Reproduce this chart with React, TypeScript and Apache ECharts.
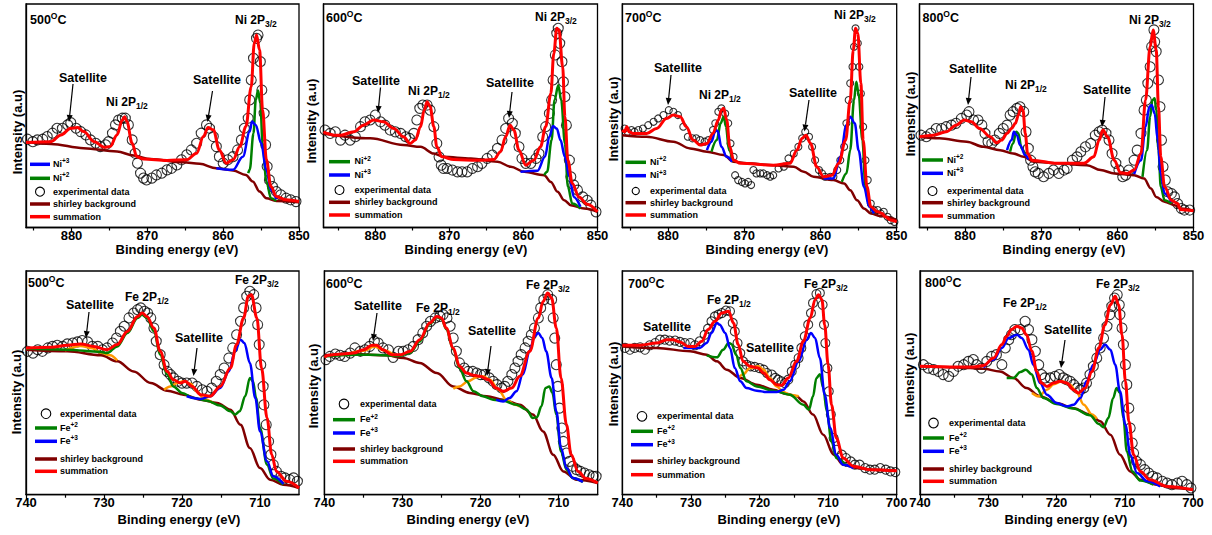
import React, { useEffect, useRef } from "react";
import * as echarts from "echarts";

type P = [number, number];

const FONT = '"Liberation Sans", Arial, Helvetica, sans-serif';
const RED = "#ff0000";
const BLUE = "#0000ff";
const GREEN = "#008000";
const BROWN = "#800000";
const ORANGE = "#ff9900";

// ---------- tick values ----------
const niMajorTicks = [880, 870, 860, 850];
const niMinorTicks = [885, 875, 865, 855];
const feMajorShort = [740, 730, 720, 710];
const feMinorShort = [735, 725, 715];
const feMajorLong = [740, 730, 720, 710, 700];
const feMinorLong = [735, 725, 715, 705];

// ---------- Ni 500 ----------
const ni500Exp: P[] = [[885.8,39.5],[885.1,38.4],[884.5,39.2],[883.8,39.5],[883.2,40.7],[882.5,42.2],[881.9,44.4],[881.2,44.4],[880.5,45.9],[880.1,46.9],[879.4,44.4],[878.8,42.9],[878.1,41.4],[877.5,39.2],[876.8,37.7],[876.2,36.2],[875.5,37.0],[875.1,38.4],[874.6,42.2],[874.2,45.9],[873.8,48.1],[873.3,48.9],[872.9,48.9],[872.5,45.9],[872.0,39.2],[871.6,33.2],[871.3,28.8],[870.9,24.3],[870.5,22.1],[870.1,21.3],[869.4,22.1],[868.8,23.5],[868.1,24.3],[867.4,25.8],[866.8,26.5],[866.1,28.0],[865.5,30.3],[864.8,32.5],[864.2,34.7],[863.5,37.7],[862.9,42.2],[862.2,45.9],[861.8,44.4],[861.3,40.7],[860.9,36.2],[860.5,31.7],[860.0,28.8],[859.4,30.3],[858.7,31.7],[858.1,34.7],[857.6,39.2],[857.2,44.4],[856.7,48.9],[856.5,57.1],[856.3,66.0],[856.0,75.7],[855.6,84.6],[855.4,86.1],[855.1,74.2],[854.9,61.5],[854.6,51.1],[854.4,37.0],[854.2,27.3],[853.9,21.3],[853.5,18.3],[853.0,16.1],[852.4,14.6],[851.7,13.1],[851.1,12.4],[850.4,11.6]];
const ni500Bg: P[] = [[886,38.4],[882.7,37.4],[878.4,35.5],[874,34.0],[871.8,32.2],[869.6,30.6],[865.3,29.2],[863.1,28.5],[860.9,26.5],[858.7,25.5],[857,23.5],[856.1,20.6],[855.2,16.1],[854.3,13.1],[853,11.9],[850,11.3]];
const ni500Sum: P[] = [[886,38.0],[882.7,38.4],[881.4,41.4],[880.1,44.4],[879.2,44.7],[878.4,42.9],[877.0,38.4],[875.7,35.9],[874.9,36.2],[874.0,41.4],[873.3,48.1],[873.0,49.6],[872.7,47.4],[872.0,37.7],[871.4,31.7],[870.5,30.6],[867.4,30.0],[864.8,30.3],[863.5,33.2],[862.6,40.7],[862.0,44.7],[861.3,43.7],[860.5,34.7],[859.6,28.8],[858.7,30.3],[857.8,36.2],[857.0,45.2],[856.3,63.0],[855.9,82.4],[855.6,86.1],[855.2,79.4],[854.8,52.6],[854.3,30.3],[853.7,18.3],[853.0,13.9],[851.7,12.4],[850.0,11.6]];
const ni500Ni2: P[] = [[856.7,24.3],[856.5,25.8],[856.0,42.2],[855.7,57.1],[855.4,61.3],[855.1,55.6],[854.8,37.7],[854.3,20.6],[853.7,13.1],[853.0,11.9]];
const ni500Ni3: P[] = [[860.9,26.5],[858.7,25.8],[857.4,31.7],[856.5,42.9],[856.2,47.4],[855.7,45.9],[855.0,37.7],[854.3,25.8],[853.7,16.8],[853.0,12.7]];

// ---------- Ni 600 ----------
const ni600Exp: P[] = [[886.8,43.6],[886.1,42.1],[885.4,42.8],[884.7,39.1],[884.1,41.3],[883.4,39.1],[882.7,40.6],[882.0,45.1],[881.4,47.3],[880.7,48.1],[880.0,50.3],[879.3,47.3],[878.7,45.8],[878.0,43.6],[877.3,42.8],[876.6,42.1],[875.9,40.6],[875.4,39.9],[874.8,42.1],[874.4,48.1],[874.0,53.3],[873.6,54.8],[873.0,54.8],[872.6,52.5],[872.1,45.1],[871.7,37.6],[871.4,31.6],[871.1,27.9],[870.8,26.4],[870.3,26.4],[869.6,25.7],[868.9,24.9],[868.3,24.9],[867.6,24.9],[866.9,26.4],[866.2,27.2],[865.6,28.7],[864.9,30.9],[864.2,32.4],[863.5,35.4],[862.9,39.1],[862.4,44.3],[862.0,48.8],[861.5,46.6],[861.1,42.1],[860.6,36.1],[860.2,30.9],[859.7,28.7],[859.0,28.7],[858.3,30.9],[857.9,33.1],[857.4,40.6],[857.0,45.1],[856.5,51.0],[856.2,57.0],[856.0,66.0],[855.7,77.2],[855.5,86.9],[855.3,89.1],[855.1,82.4],[854.8,74.2],[854.6,65.2],[854.4,58.5],[854.2,45.8],[853.8,30.1],[853.6,22.7],[853.2,19.0],[852.7,16.7],[852.0,13.7],[851.4,12.2],[850.9,10.0],[850.2,7.0]];
const ni600Bg: P[] = [[887,42.1],[880.7,39.9],[876.2,36.9],[873.9,36.1],[872.1,33.1],[870.8,31.6],[867.1,30.9],[863.5,29.4],[861.7,27.2],[859.9,24.9],[857.2,23.4],[856.3,20.4],[855.4,16.0],[854.5,12.2],[853.6,10.0],[851.8,8.5],[850,7.0]];
const ni600Sum: P[] = [[887.0,42.8],[886.5,42.1],[885.6,41.3],[884.7,41.3],[882.9,42.8],[881.6,45.8],[880.2,48.1],[878.9,47.3],[877.5,44.3],[876.2,40.6],[875.3,37.6],[874.6,39.1],[873.9,45.1],[873.4,52.5],[873.0,56.3],[872.6,54.0],[872.1,45.1],[871.7,36.1],[871.0,31.6],[869.4,30.4],[866.2,30.1],[864.0,30.4],[863.1,33.9],[862.4,40.6],[861.8,45.8],[861.3,43.6],[860.6,34.6],[859.7,27.9],[858.6,30.1],[857.7,36.1],[857.0,45.1],[856.3,60.0],[855.9,77.9],[855.5,89.1],[855.2,88.4],[854.7,71.9],[854.4,49.6],[854.0,30.1],[853.4,19.7],[852.5,13.7],[851.4,10.4],[850.0,7.0]];
const ni600Ni2: P[] = [[857.2,23.4],[856.8,24.9],[856.2,39.1],[855.8,57.0],[855.3,63.7],[854.9,57.0],[854.4,37.6],[854.0,18.2],[853.4,10.7],[852.3,8.5]];
const ni600Ni3: P[] = [[860.4,24.9],[858.1,25.4],[857.1,31.6],[856.5,40.6],[856.0,45.4],[855.5,44.3],[855.0,39.1],[854.4,31.6],[853.8,22.7],[853.2,13.7],[852.3,9.3]];

// ---------- Ni 700 ----------
const ni700Exp: P[] = [[885.7,44.3],[885.3,42.8],[884.8,43.6],[884.4,42.8],[883.9,43.6],[883.3,44.3],[882.6,45.8],[881.9,47.3],[881.3,48.8],[880.6,50.3],[879.9,52.5],[879.3,51.8],[878.7,50.3],[878.0,45.1],[877.4,40.6],[876.8,39.9],[876.3,39.9],[875.8,39.1],[875.2,38.4],[874.7,39.1],[874.1,43.6],[873.8,46.6],[873.4,51.8],[873.0,53.3],[872.5,51.0],[872.1,46.6],[871.8,37.6],[871.4,31.6],[871.2,23.4],[870.8,21.2],[870.3,20.4],[869.9,19.7],[869.5,20.4],[869.1,19.0],[868.8,25.7],[868.4,24.2],[867.9,24.2],[867.5,24.2],[867.0,23.4],[866.6,22.7],[866.2,23.4],[865.5,26.4],[864.8,27.2],[864.2,30.9],[863.5,33.1],[862.9,36.1],[862.4,39.9],[862.0,42.8],[861.5,40.6],[861.1,36.1],[860.7,30.1],[860.2,25.7],[859.8,24.2],[859.4,22.7],[858.7,22.7],[858.3,22.7],[857.8,25.7],[857.4,30.1],[856.9,36.1],[856.6,46.6],[856.3,57.0],[856.1,64.5],[855.8,71.9],[855.6,80.9],[855.4,89.1],[855.1,82.4],[854.9,71.9],[854.7,60.0],[854.4,45.1],[854.1,30.1],[853.8,21.2],[853.4,10.7],[853.0,7.8],[852.5,7.8],[852.1,6.3],[851.7,7.0],[851.2,4.8],[850.8,3.3],[850.3,2.5]];
const ni700Bg: P[] = [[886.0,41.3],[882.8,40.6],[879.3,38.4],[877.1,35.4],[874.9,33.9],[872.7,32.4],[871.4,29.4],[869.7,28.7],[866.2,27.9],[863.5,27.2],[862.2,24.9],[860.9,22.7],[858.3,21.2],[856.9,19.7],[856.1,16.7],[855.2,12.2],[854.3,8.5],[853.4,6.3],[852.1,5.1],[850.0,3.3]];
const ni700Sum: P[] = [[886.0,43.6],[885.7,42.8],[885.4,45.1],[885.1,42.8],[884.6,42.1],[882.8,42.1],[881.5,44.3],[880.2,48.8],[879.3,50.3],[878.4,49.6],[877.6,45.1],[876.7,39.1],[875.8,36.9],[874.9,37.6],[874.1,42.1],[873.4,48.1],[873.0,52.5],[872.7,53.3],[872.3,48.1],[871.9,36.1],[871.4,30.1],[870.5,28.7],[866.2,27.9],[864.0,28.7],[863.1,34.6],[862.4,39.9],[861.9,41.3],[861.3,37.6],[860.5,27.2],[859.6,22.7],[858.5,23.4],[857.6,28.7],[856.7,39.1],[856.1,57.0],[855.7,79.4],[855.4,89.1],[855.1,86.9],[854.7,64.5],[854.4,39.1],[853.9,18.2],[853.4,9.3],[852.5,7.0],[851.9,6.3],[851.5,4.8],[850.8,3.3],[850.0,2.5]];
const ni700Ni2a: P[] = [[874.3,33.9],[873.6,39.1],[873.1,46.6],[872.7,49.6],[872.4,45.1],[872.0,34.6],[871.5,29.4]];
const ni700Ni2b: P[] = [[857.2,20.4],[856.6,24.2],[856.1,34.6],[855.6,57.0],[855.3,65.2],[855.0,60.0],[854.5,39.1],[854.1,18.2],[853.6,9.3],[853.0,6.3]];
const ni700Ni3a: P[] = [[874.9,34.6],[874.3,38.4],[873.8,43.3],[873.5,43.3],[873.0,36.1],[872.3,31.6],[871.6,29.4]];
const ni700Ni3b: P[] = [[859.6,21.9],[858.3,21.9],[857.4,31.6],[856.6,45.8],[856.1,49.6],[855.5,46.6],[855.0,34.6],[854.3,18.2],[853.6,9.3],[853.0,6.3]];

// ---------- Ni 800 ----------
const ni800Exp: P[] = [[885.8,41.3],[885.1,40.6],[884.5,42.1],[883.8,44.3],[883.1,44.3],[882.5,45.1],[881.8,45.8],[881.2,46.6],[880.5,48.8],[879.8,50.3],[879.5,51.8],[878.9,48.1],[878.3,48.1],[877.8,45.8],[877.4,42.1],[877.0,38.4],[876.5,37.6],[876.1,39.1],[875.5,42.1],[875.0,44.3],[874.5,45.8],[874.1,50.3],[873.7,51.8],[873.2,53.3],[872.8,54.0],[872.3,51.8],[872.0,42.8],[871.7,35.4],[871.4,30.1],[871.1,27.2],[870.8,24.9],[870.4,24.2],[869.7,22.7],[869.0,24.2],[868.4,25.7],[867.7,24.2],[867.0,25.7],[866.6,26.4],[865.9,30.1],[865.3,31.6],[864.8,33.9],[864.2,36.1],[863.5,37.6],[862.9,41.3],[862.4,42.8],[862.0,43.6],[861.5,42.1],[861.1,39.1],[860.7,33.1],[860.2,28.7],[859.8,25.7],[859.3,22.7],[858.9,23.4],[858.5,25.7],[857.8,30.1],[857.4,34.6],[856.9,42.1],[856.5,52.5],[856.2,57.0],[856.0,64.5],[855.7,71.9],[855.5,80.9],[855.2,88.4],[855.1,83.1],[854.9,78.7],[854.6,66.0],[854.4,54.0],[854.2,39.1],[854.0,27.2],[853.7,21.2],[853.4,16.0],[852.9,15.2],[852.5,13.7],[852.1,10.7],[851.6,8.5],[851.2,7.8],[850.5,7.8]];
const ni800Bg: P[] = [[886.0,40.6],[883.4,39.9],[879.8,38.4],[877.6,36.1],[875.4,34.6],[873.7,33.1],[872.3,31.6],[871.0,29.4],[867.9,28.7],[864.0,27.9],[862.2,25.7],[860.4,24.2],[857.8,23.4],[856.5,21.9],[855.6,17.5],[854.9,13.7],[853.8,11.5],[852.5,10.0],[851.6,8.5],[850.0,7.5]];
const ni800Sum: P[] = [[886.0,40.6],[884.2,41.3],[882.5,42.8],[881.2,45.8],[880.1,48.1],[879.2,47.3],[878.1,44.3],[876.7,40.6],[875.9,37.9],[875.2,39.1],[874.5,42.1],[873.9,44.3],[873.4,46.6],[873.0,50.3],[872.7,54.0],[872.4,52.5],[872.1,42.1],[871.8,33.1],[871.2,30.1],[867.9,28.7],[864.4,28.7],[863.1,31.6],[862.4,39.1],[861.9,43.6],[861.3,40.6],[860.4,30.1],[859.6,24.5],[858.7,24.2],[857.8,25.7],[856.9,33.1],[856.3,57.0],[855.7,80.9],[855.3,88.4],[854.9,79.4],[854.6,54.0],[854.3,31.6],[853.8,18.2],[852.9,12.2],[852.1,10.7],[851.7,8.1],[851.0,7.8],[850.0,7.5]];
const ni800Ni2a: P[] = [[874.1,33.9],[873.7,37.6],[873.3,42.8],[873.0,42.1],[872.6,35.4],[872.1,32.4]];
const ni800Ni2b: P[] = [[856.7,22.7],[856.1,34.6],[855.7,49.6],[855.4,57.0],[855.1,57.8],[854.9,52.5],[854.6,34.6],[854.3,18.2],[853.8,12.2],[852.9,10.7]];
const ni800Ni3a: P[] = [[874.5,34.6],[873.9,39.1],[873.6,42.8],[873.2,41.3],[872.8,36.9],[872.1,32.4],[871.7,30.4]];
const ni800Ni3b: P[] = [[857.8,23.9],[856.9,30.1],[856.3,45.1],[855.8,54.0],[855.5,54.8],[855.1,51.0],[854.7,39.1],[854.3,24.2],[853.8,15.2],[852.9,11.5]];

// ---------- Fe 500 ----------
const fe500Exp: P[] = [[739.8,64.1],[739.1,63.3],[738.5,64.8],[737.9,64.1],[737.2,65.6],[736.6,66.3],[736.0,66.8],[735.3,66.3],[734.7,67.4],[734.0,67.8],[733.4,68.3],[732.8,68.9],[732.1,68.3],[731.5,66.3],[730.8,66.3],[730.2,64.8],[729.6,65.6],[728.9,67.8],[728.4,70.0],[727.9,73.0],[727.4,75.3],[726.8,79.0],[726.2,81.2],[725.7,82.7],[725.3,83.5],[724.8,82.0],[724.4,81.2],[724.0,79.0],[723.6,74.5],[723.3,68.6],[722.8,62.6],[722.3,58.1],[721.9,55.1],[721.5,53.7],[721.1,52.2],[720.5,50.7],[720.0,49.9],[719.4,49.9],[718.7,49.9],[718.1,48.4],[717.4,46.9],[716.8,46.2],[716.2,47.7],[715.6,50.7],[715.1,53.7],[714.6,56.6],[714.0,61.1],[713.5,65.6],[713.0,71.5],[712.5,77.5],[712.1,83.5],[711.7,88.7],[711.3,90.9],[710.8,89.4],[710.5,83.5],[710.3,76.0],[710.1,67.1],[709.9,58.1],[709.6,48.4],[709.5,40.2],[709.2,31.3],[708.9,23.8],[708.6,17.9],[708.3,13.4],[707.9,10.4],[707.3,8.2],[706.8,7.5],[706.2,6.7],[705.7,7.5],[705.2,6.0]];
const fe500Bg: P[] = [[740.0,64.8],[734.7,64.1],[730.4,62.3],[728.3,59.6],[726.2,55.1],[724.0,49.9],[721.9,46.5],[719.8,44.7],[717.6,42.5],[715.5,41.0],[713.8,38.0],[712.5,31.3],[711.3,20.9],[710.0,11.9],[708.7,6.7],[707.0,4.5],[705.0,3.0]];
const fe500Sum: P[] = [[740.0,65.6],[736.8,65.9],[734.7,66.8],[733.0,67.4],[731.3,66.3],[729.6,64.8],[728.3,67.1],[727.0,73.0],[725.7,79.7],[725.1,81.2],[724.5,79.7],[723.6,74.5],[722.8,64.1],[721.9,55.1],[721.1,51.4],[720.2,49.9],[719.6,50.7],[718.7,48.4],[717.6,44.7],[716.4,44.0],[715.1,48.4],[713.8,56.6],[713.0,67.1],[712.1,79.0],[711.5,88.7],[711.1,89.4],[710.4,79.0],[709.8,56.6],[709.1,34.3],[708.5,17.9],[707.9,10.4],[706.6,6.0],[705.0,3.0]];
const fe500Fe2: P[] = [[740.0,65.3],[734.7,64.8],[730.4,63.8],[729.6,63.3],[728.3,66.3],[727.0,72.3],[725.7,79.0],[725.1,80.5],[724.5,79.0],[723.6,73.0],[722.8,62.6],[721.9,53.7],[721.1,48.4],[720.0,45.5],[718.5,43.2],[716.8,42.0],[715.1,39.9],[713.8,37.3],[713.2,35.8],[712.6,37.3],[711.9,44.0],[711.3,52.2],[710.9,50.7],[710.5,43.2],[710.0,29.8],[709.1,13.4],[708.3,7.2],[707.0,4.5]];
const fe500Fe3: P[] = [[719.4,44.0],[717.6,42.8],[716.4,44.0],[715.1,47.7],[714.0,55.1],[713.2,64.1],[712.5,69.3],[712.0,67.8],[711.3,58.9],[710.6,43.2],[710.0,28.3],[709.1,14.9],[708.3,8.2],[707.0,4.8]];
const fe500SatA: P[] = [[735.0,64.5],[733.0,66.5],[731.5,65.5],[730.4,63.5],[729.2,62.3],[728.3,60.0]];
const fe500SatB: P[] = [[722.3,46.9],[721.5,48.4],[720.6,49.9],[719.8,50.7],[718.9,49.6],[718.1,46.2],[717.2,42.8],[716.0,41.0]];

// ---------- Fe 600 ----------
const fe600Exp: P[] = [[739.8,60.4],[739.3,61.8],[738.6,62.9],[738.0,62.3],[737.4,61.8],[736.7,63.3],[736.1,65.6],[735.4,64.1],[734.8,64.8],[734.2,66.3],[733.6,68.6],[733.1,67.8],[732.5,65.6],[731.8,64.8],[731.2,61.4],[730.5,64.1],[729.9,64.1],[729.3,64.8],[728.6,66.3],[728.0,69.3],[727.4,72.3],[726.9,75.3],[726.4,77.5],[725.8,79.0],[725.2,79.7],[724.8,80.5],[724.3,79.0],[723.9,75.3],[723.5,70.0],[723.1,64.1],[722.7,58.9],[722.1,56.6],[721.6,55.1],[721.0,55.1],[720.5,54.4],[720.0,53.7],[719.5,53.7],[718.9,52.2],[718.4,50.7],[717.9,49.2],[717.3,47.7],[716.9,48.4],[716.5,50.7],[716.0,53.7],[715.6,56.6],[715.2,59.6],[714.8,62.6],[714.3,65.6],[713.9,68.6],[713.5,71.5],[713.1,74.5],[712.6,79.0],[712.3,83.5],[711.9,87.2],[711.4,89.4],[710.9,87.2],[710.7,79.0],[710.5,70.0],[710.3,58.1],[710.1,48.4],[709.9,38.7],[709.6,29.8],[709.4,23.8],[709.0,18.6],[708.6,14.9],[708.2,12.7],[707.7,11.2],[707.2,10.4],[706.7,9.7],[706.1,8.9],[705.6,8.2],[705.2,8.2]];
const fe600Bg: P[] = [[740.0,62.3],[736.3,62.9],[732.0,62.3],[729.9,61.1],[727.8,58.9],[725.6,54.4],[723.5,48.4],[721.4,45.5],[719.2,44.0],[717.1,42.5],[715.0,40.2],[713.3,35.8],[712.0,28.3],[710.7,17.9],[709.4,10.4],[707.7,6.7],[705.0,5.2]];
const fe600Sum: P[] = [[740.0,61.4],[739.5,62.3],[738.8,62.6],[737.6,62.9],[736.3,63.3],[735.0,64.8],[733.9,66.8],[733.3,66.8],[732.5,64.8],[731.4,62.6],[730.3,62.6],[729.0,64.1],[727.8,69.3],[726.5,76.8],[725.6,79.7],[725.0,79.0],[724.4,74.5],[723.5,65.6],[722.7,57.4],[721.8,54.4],[720.9,53.4],[720.1,52.9],[719.0,51.4],[718.0,47.7],[717.1,46.2],[716.0,47.7],[715.0,52.9],[713.7,64.1],[712.6,79.0],[712.0,86.4],[711.4,90.2],[710.9,87.9],[710.3,74.5],[709.7,52.2],[709.0,31.3],[708.4,17.9],[707.5,10.4],[706.5,7.2],[705.0,5.2]];
const fe600Fe2: P[] = [[740.0,61.8],[736.0,62.6],[733.0,62.5],[730.5,62.0],[729.0,63.5],[727.8,68.5],[726.5,76.3],[725.6,79.3],[725.0,78.6],[724.4,74.0],[723.5,65.0],[722.7,56.5],[721.8,50.7],[720.9,46.2],[719.7,44.0],[718.4,42.5],[717.1,42.0],[715.4,40.2],[714.1,38.0],[713.3,34.3],[712.8,34.6],[712.2,39.5],[711.7,47.7],[711.2,48.4],[710.8,45.5],[710.3,35.8],[709.7,19.4],[709.0,11.2],[708.2,7.5],[706.9,5.7]];
const fe600Fe3: P[] = [[718.0,42.5],[717.1,41.7],[716.3,43.2],[715.4,46.2],[714.6,53.7],[713.7,64.1],[713.1,70.8],[712.6,72.3],[712.1,70.0],[711.6,64.1],[710.9,52.2],[710.3,37.3],[709.7,20.9],[709.0,11.9],[708.2,7.5],[706.9,5.7]];
const fe600SatA: P[] = [[737.0,62.8],[735.0,64.3],[733.6,66.3],[732.3,64.5],[731.0,62.3]];
const fe600SatB: P[] = [[723.5,47.4],[722.7,48.4],[721.6,50.7],[720.5,52.5],[719.7,52.9],[718.8,51.4],[717.7,46.9],[716.7,42.5],[715.6,40.2],[715.0,39.5]];

// ---------- Fe 700 ----------
const fe700Exp: P[] = [[739.6,65.6],[738.9,64.8],[738.2,65.6],[737.4,65.9],[736.7,64.8],[736.0,66.8],[735.2,67.8],[734.5,69.3],[733.8,69.3],[733.1,68.9],[732.3,68.9],[731.6,68.3],[730.9,67.8],[730.1,67.8],[729.4,66.8],[728.7,68.6],[728.0,71.5],[727.5,74.2],[727.0,77.5],[726.5,79.7],[726.0,80.5],[725.5,81.2],[724.9,82.3],[724.3,82.0],[723.9,76.8],[723.6,73.0],[723.2,67.8],[722.8,63.3],[722.4,59.6],[721.9,58.1],[721.3,57.4],[720.7,57.1],[720.0,56.6],[719.4,55.9],[718.9,54.4],[718.2,53.7],[717.7,52.2],[717.3,51.4],[716.8,50.7],[716.3,49.9],[715.8,51.4],[715.3,55.1],[714.8,58.1],[714.3,61.1],[713.9,65.6],[713.4,70.8],[712.9,76.0],[712.5,81.2],[712.2,85.7],[711.7,89.7],[711.2,90.2],[710.8,84.9],[710.6,76.0],[710.4,67.8],[710.1,56.6],[709.9,46.2],[709.6,35.8],[709.2,25.3],[708.8,20.1],[708.0,17.9],[707.4,16.4],[706.7,14.9],[706.1,13.4],[705.4,13.4],[704.6,11.9],[703.9,11.2],[703.2,11.2],[702.4,11.9],[701.6,11.2],[700.9,10.4],[700.2,10.1]];
const fe700Bg: P[] = [[740.0,66.3],[735.0,65.6],[730.1,64.1],[727.7,62.6],[726.2,59.6],[724.8,55.9],[722.8,52.2],[720.4,49.2],[718.0,46.9],[716.0,45.0],[714.6,44.0],[713.6,41.7],[712.2,35.8],[710.7,26.8],[709.2,17.9],[707.8,13.4],[705.8,11.9],[703.4,11.2],[700.0,10.7]];
const fe700Sum: P[] = [[740.0,66.8],[737.4,66.8],[735.0,67.8],[733.5,69.3],[732.6,69.3],[731.6,68.3],[730.4,66.3],[729.4,66.3],[728.4,68.6],[727.5,73.8],[726.5,77.5],[725.5,81.2],[724.5,82.0],[723.8,76.8],[723.1,67.1],[722.4,59.6],[721.4,57.4],[720.2,56.6],[719.4,54.4],[718.5,51.4],[717.5,49.2],[716.8,48.9],[715.8,52.2],[714.6,59.6],[713.6,68.6],[712.6,79.0],[711.9,87.2],[711.4,89.4],[710.9,87.2],[710.5,76.0],[710.0,58.1],[709.5,40.2],[708.8,25.3],[707.8,16.4],[706.3,12.7],[703.9,11.2],[700.0,10.7]];
const fe700Fe2: P[] = [[727.7,62.3],[726.2,61.4],[725.3,64.8],[724.5,67.8],[724.1,67.4],[723.4,62.6],[722.8,56.6],[721.9,50.7],[720.4,48.4],[718.0,46.5],[715.6,44.7],[713.6,40.2],[712.8,38.0],[712.2,44.0],[711.7,52.2],[711.2,53.9],[710.7,47.7],[710.2,37.3],[709.5,23.8],[708.8,16.4],[707.3,12.7]];
const fe700Fe3: P[] = [[731.1,65.6],[728.7,65.6],[727.7,67.8],[727.0,72.3],[726.2,76.8],[725.8,76.0],[725.0,72.3],[724.3,65.6],[723.6,56.6],[722.8,50.7],[721.9,47.7],[720.4,46.5],[719.0,45.9],[717.5,45.9],[716.5,46.9],[715.6,50.7],[714.3,59.6],[713.1,69.3],[712.5,72.3],[711.9,70.0],[711.2,61.1],[710.5,44.7],[709.7,29.8],[708.8,17.9],[707.8,13.4],[706.3,11.9]];
const fe700Sat: P[] = [[723.1,52.2],[722.4,53.7],[721.4,56.6],[720.2,57.4],[719.4,55.9],[718.5,52.2],[717.5,48.4],[716.5,45.9],[715.6,44.7],[714.3,44.0]];

// ---------- Fe 800 ----------
const fe800Exp: P[] = [[739.5,58.1],[738.8,56.6],[738.0,55.9],[737.3,55.1],[736.6,53.7],[735.8,52.9],[735.1,55.1],[734.4,57.4],[733.6,58.1],[732.9,59.6],[732.2,60.4],[731.7,58.1],[731.0,56.6],[730.2,59.6],[729.5,61.8],[728.8,62.6],[728.0,58.1],[727.5,65.6],[727.0,69.3],[726.6,71.5],[726.1,73.8],[725.3,73.8],[724.6,77.5],[724.1,73.8],[723.6,69.3],[723.1,64.1],[722.6,58.1],[722.2,53.7],[721.7,52.2],[720.9,52.2],[720.2,52.9],[719.6,53.7],[719.0,52.2],[718.5,51.4],[718.0,50.7],[717.5,49.2],[717.0,47.7],[716.5,46.9],[716.0,47.7],[715.6,49.9],[715.1,53.7],[714.6,57.4],[714.1,61.1],[713.6,65.6],[713.1,70.0],[712.6,75.3],[712.2,80.5],[711.9,84.2],[711.5,87.9],[711.1,89.4],[710.8,84.9],[710.7,80.5],[710.4,74.5],[710.2,67.1],[709.9,58.1],[709.7,49.2],[709.4,38.7],[709.2,29.8],[708.9,23.1],[708.7,18.6],[708.3,14.9],[707.7,13.4],[707.1,11.2],[706.5,9.7],[705.9,8.2],[705.3,7.5],[704.5,6.0],[703.8,5.2],[703.1,4.5],[702.3,5.2],[701.6,6.0],[700.9,4.5],[700.3,3.0]];
const fe800Bg: P[] = [[740.0,57.4],[734.6,56.9],[730.7,56.3],[728.3,55.1],[726.3,52.2],[724.4,47.7],[722.4,44.0],[720.0,41.0],[717.5,38.7],[715.1,35.8],[713.6,32.8],[712.1,26.8],[710.7,17.9],[709.2,10.4],[707.7,6.7],[705.3,4.5],[702.8,3.0],[700.0,2.2]];
const fe800Sum: P[] = [[740.0,57.4],[734.6,57.1],[732.2,57.1],[730.7,57.8],[729.2,61.1],[728.0,67.1],[727.3,70.8],[726.6,73.8],[725.8,75.3],[725.1,74.5],[724.4,71.5],[723.6,64.1],[722.9,55.1],[722.2,49.9],[721.4,48.4],[720.4,49.9],[719.5,50.7],[718.5,49.9],[717.5,46.9],[716.8,45.5],[715.8,47.7],[714.8,55.1],[713.8,65.6],[712.9,76.0],[712.1,84.9],[711.4,88.7],[710.9,84.9],[710.4,71.5],[709.9,50.7],[709.4,32.8],[708.7,17.9],[707.7,10.4],[706.3,6.7],[703.8,3.7],[700.0,2.2]];
const fe800Fe2: P[] = [[727.3,52.2],[726.3,52.2],[725.3,54.8],[724.5,55.9],[723.6,53.7],[722.9,47.7],[721.9,43.2],[720.0,40.5],[717.5,38.5],[715.1,35.5],[713.8,31.6],[713.1,30.1],[712.4,34.3],[711.7,43.2],[711.2,47.7],[710.7,45.5],[710.2,34.3],[709.7,19.4],[708.9,10.4],[707.7,6.3],[705.8,4.5]];
const fe800Fe3: P[] = [[730.7,56.9],[729.2,60.4],[728.0,65.6],[727.0,70.0],[725.8,71.5],[725.1,70.0],[724.1,64.8],[723.4,58.1],[722.4,49.9],[721.4,44.7],[720.0,41.0],[718.5,39.5],[717.5,40.2],[716.5,43.2],[715.6,50.7],[714.6,58.1],[713.6,64.8],[712.9,67.1],[712.1,64.8],[711.4,58.1],[710.7,46.2],[709.9,31.3],[709.2,17.9],[708.2,9.7],[706.7,6.0],[704.8,3.7]];
const fe800Sat: P[] = [[723.6,45.5],[722.6,44.0],[721.4,46.9],[720.4,49.4],[719.2,50.7],[718.0,49.2],[717.0,45.5],[716.0,40.2],[714.8,35.8],[714.1,34.0]];

// ---------- panel definitions (data binding) ----------
type Curve = { d: P[]; c: string; w?: number };
type PanelData = { xMin: number; xMax: number; major: number[]; minor: number[]; exp: P[]; expSize: number; curves: Curve[] };

const panelData: PanelData[] = [
  { xMin: 850, xMax: 886, major: niMajorTicks, minor: niMinorTicks, exp: ni500Exp, expSize: 10,
    curves: [{ d: ni500Bg, c: BROWN }, { d: ni500Ni2, c: GREEN }, { d: ni500Ni3, c: BLUE }, { d: ni500Sum, c: RED, w: 3 }] },
  { xMin: 850, xMax: 887, major: niMajorTicks, minor: niMinorTicks, exp: ni600Exp, expSize: 10,
    curves: [{ d: ni600Bg, c: BROWN }, { d: ni600Ni2, c: GREEN }, { d: ni600Ni3, c: BLUE }, { d: ni600Sum, c: RED, w: 3 }] },
  { xMin: 850, xMax: 886, major: niMajorTicks, minor: niMinorTicks, exp: ni700Exp, expSize: 7,
    curves: [{ d: ni700Bg, c: BROWN }, { d: ni700Ni2a, c: GREEN }, { d: ni700Ni2b, c: GREEN }, { d: ni700Ni3a, c: BLUE }, { d: ni700Ni3b, c: BLUE }, { d: ni700Sum, c: RED, w: 3 }] },
  { xMin: 850, xMax: 886, major: niMajorTicks, minor: niMinorTicks, exp: ni800Exp, expSize: 10,
    curves: [{ d: ni800Bg, c: BROWN }, { d: ni800Ni2a, c: GREEN }, { d: ni800Ni2b, c: GREEN }, { d: ni800Ni3a, c: BLUE }, { d: ni800Ni3b, c: BLUE }, { d: ni800Sum, c: RED, w: 3 }] },
  { xMin: 705, xMax: 740, major: feMajorShort, minor: feMinorShort, exp: fe500Exp, expSize: 10,
    curves: [{ d: fe500Bg, c: BROWN }, { d: fe500SatA, c: ORANGE }, { d: fe500SatB, c: ORANGE }, { d: fe500Fe2, c: GREEN }, { d: fe500Fe3, c: BLUE }, { d: fe500Sum, c: RED, w: 3 }] },
  { xMin: 705, xMax: 740, major: feMajorShort, minor: feMinorShort, exp: fe600Exp, expSize: 10,
    curves: [{ d: fe600Bg, c: BROWN }, { d: fe600SatA, c: ORANGE }, { d: fe600SatB, c: ORANGE }, { d: fe600Fe2, c: GREEN }, { d: fe600Fe3, c: BLUE }, { d: fe600Sum, c: RED, w: 3 }] },
  { xMin: 700, xMax: 740, major: feMajorLong, minor: feMinorLong, exp: fe700Exp, expSize: 9,
    curves: [{ d: fe700Bg, c: BROWN }, { d: fe700Sat, c: ORANGE }, { d: fe700Fe2, c: GREEN }, { d: fe700Fe3, c: BLUE }, { d: fe700Sum, c: RED, w: 3 }] },
  { xMin: 700, xMax: 740, major: feMajorLong, minor: feMinorLong, exp: fe800Exp, expSize: 10,
    curves: [{ d: fe800Bg, c: BROWN }, { d: fe800Sat, c: ORANGE }, { d: fe800Fe2, c: GREEN }, { d: fe800Fe3, c: BLUE }, { d: fe800Sum, c: RED, w: 3 }] },
];

// ---------- layout ----------
const gridBoxes = [
  { left: 26, top: 4, width: 273, height: 223.5 },
  { left: 323.5, top: 4, width: 274, height: 223.5 },
  { left: 622.3, top: 4, width: 274.4, height: 223.5 },
  { left: 919.5, top: 4, width: 274, height: 223.5 },
  { left: 26, top: 271, width: 273, height: 223.7 },
  { left: 324.4, top: 271, width: 273.3, height: 223.7 },
  { left: 622.3, top: 271, width: 274.4, height: 223.7 },
  { left: 920, top: 271, width: 273, height: 223.7 },
];

const xTitlePos = [[177, 249.5], [466, 249.5], [767, 249.5], [1064, 249.5], [179, 519.5], [468, 519.5], [779, 519.5], [1066, 519.5]];
const yTitlePos = [[17, 132], [311, 121], [613, 119], [910, 114], [16, 392], [313, 386], [613, 384], [909, 375]];
const tempLabels = [
  { t: "500", x: 30, y: 22 }, { t: "600", x: 326, y: 20 }, { t: "700", x: 625, y: 20 }, { t: "800", x: 922.5, y: 20 },
  { t: "500", x: 28, y: 285 }, { t: "600", x: 326, y: 286 }, { t: "700", x: 628, y: 286 }, { t: "800", x: 925, y: 285 },
];

type Ann = { main: string; sub?: string; x: number; y: number };
const annotations: Ann[] = [
  { main: "Ni 2P", sub: "3/2", x: 235, y: 21 }, { main: "Satellite", x: 59, y: 78 }, { main: "Ni 2P", sub: "1/2", x: 106, y: 103 }, { main: "Satellite", x: 193, y: 80 },
  { main: "Satellite", x: 352, y: 81 }, { main: "Ni 2P", sub: "1/2", x: 408, y: 92 }, { main: "Satellite", x: 486, y: 83 }, { main: "Ni 2P", sub: "3/2", x: 535, y: 18 },
  { main: "Satellite", x: 654, y: 68 }, { main: "Ni 2P", sub: "1/2", x: 699, y: 96 }, { main: "Satellite", x: 789, y: 93 }, { main: "Ni 2P", sub: "3/2", x: 834, y: 16 },
  { main: "Satellite", x: 949, y: 69 }, { main: "Ni 2P", sub: "1/2", x: 1005, y: 86 }, { main: "Satellite", x: 1083, y: 90 }, { main: "Ni 2P", sub: "3/2", x: 1129, y: 21 },
  { main: "Fe 2P", sub: "3/2", x: 235, y: 281 }, { main: "Fe 2P", sub: "1/2", x: 125, y: 298 }, { main: "Satellite", x: 66, y: 305 }, { main: "Satellite", x: 175, y: 338 },
  { main: "Satellite", x: 354, y: 306 }, { main: "Fe 2P", sub: "1/2", x: 416, y: 309 }, { main: "Satellite", x: 468, y: 331 }, { main: "Fe 2P", sub: "3/2", x: 526, y: 286 },
  { main: "Satellite", x: 643, y: 327 }, { main: "Fe 2P", sub: "1/2", x: 707, y: 301 }, { main: "Satellite", x: 746, y: 348 }, { main: "Fe 2P", sub: "3/2", x: 804, y: 285 },
  { main: "Fe 2P", sub: "1/2", x: 1003, y: 304 }, { main: "Satellite", x: 1044, y: 330 }, { main: "Fe 2P", sub: "3/2", x: 1096, y: 285 },
];
const arrows = [
  [73, 84, 69, 122], [212.5, 91, 207.5, 122],
  [380.5, 87.5, 378, 113], [512, 92, 509, 118],
  [671, 75, 668, 105], [809, 100, 804.5, 131.5],
  [971, 77, 968, 105], [1105, 97, 1102, 127],
  [89, 312, 86, 338], [197, 348, 193.5, 376],
  [377, 313, 373, 341], [491, 346, 487, 376],
  [1065, 340, 1061, 368],
];

type LegendRow = { k: string; y: number };
const legends: { x1: number; x2: number; tx: number; r: number; rows: LegendRow[] }[] = [
  { x1: 30, x2: 50, tx: 53, r: 4.5, rows: [{ k: "Ni3", y: 164.3 }, { k: "Ni2", y: 178.3 }, { k: "exp", y: 191.7 }, { k: "bg", y: 204 }, { k: "sum", y: 216.7 }] },
  { x1: 329, x2: 350, tx: 354.5, r: 4.5, rows: [{ k: "Ni2", y: 161.7 }, { k: "Ni3", y: 175 }, { k: "exp", y: 190 }, { k: "bg", y: 202.3 }, { k: "sum", y: 215 }] },
  { x1: 625.5, x2: 646, tx: 650, r: 3.6, rows: [{ k: "Ni2", y: 162.3 }, { k: "Ni3", y: 175.7 }, { k: "exp", y: 191 }, { k: "bg", y: 202.7 }, { k: "sum", y: 215 }] },
  { x1: 922, x2: 943, tx: 947, r: 4.5, rows: [{ k: "Ni2", y: 160 }, { k: "Ni3", y: 173.3 }, { k: "exp", y: 191 }, { k: "bg", y: 202.7 }, { k: "sum", y: 216 }] },
  { x1: 35, x2: 57, tx: 60, r: 4.8, rows: [{ k: "exp", y: 413.7 }, { k: "Fe2", y: 428 }, { k: "Fe3", y: 441.3 }, { k: "bg", y: 459 }, { k: "sum", y: 471.3 }] },
  { x1: 333, x2: 355, tx: 360, r: 4.8, rows: [{ k: "exp", y: 404 }, { k: "Fe2", y: 419.7 }, { k: "Fe3", y: 433 }, { k: "bg", y: 449 }, { k: "sum", y: 461.3 }] },
  { x1: 631, x2: 653, tx: 657, r: 4.8, rows: [{ k: "exp", y: 416.3 }, { k: "Fe2", y: 431.3 }, { k: "Fe3", y: 444.7 }, { k: "bg", y: 461.3 }, { k: "sum", y: 474.7 }] },
  { x1: 923, x2: 944, tx: 949, r: 4.8, rows: [{ k: "exp", y: 423 }, { k: "Fe2", y: 438 }, { k: "Fe3", y: 451.3 }, { k: "bg", y: 469 }, { k: "sum", y: 481.3 }] },
];

const legendInfo: Record<string, { color: string; parts?: [string, string]; text?: string }> = {
  Ni2: { color: GREEN, parts: ["Ni", "+2"] },
  Ni3: { color: BLUE, parts: ["Ni", "+3"] },
  Fe2: { color: GREEN, parts: ["Fe", "+2"] },
  Fe3: { color: BLUE, parts: ["Fe", "+3"] },
  exp: { color: "#000", text: "experimental data" },
  bg: { color: BROWN, text: "shirley background" },
  sum: { color: RED, text: "summation" },
};

// ---------- helpers ----------
function richLine(x: number, yc: number, parts: [string, "m" | "s"][], kind: "sub" | "sup", size: number, sSize: number) {
  const mainLH = size + 2;
  const pad = Math.round(size * 0.72);
  const base = { fontWeight: "bold", fontFamily: FONT, fill: "#000" };
  const rich =
    kind === "sub"
      ? {
          m: { ...base, fontSize: size, lineHeight: mainLH, verticalAlign: "top" },
          s: { ...base, fontSize: sSize, lineHeight: sSize, padding: [pad, 0, 0, 0], verticalAlign: "bottom" },
        }
      : {
          m: { ...base, fontSize: size, lineHeight: mainLH, verticalAlign: "bottom" },
          s: { ...base, fontSize: sSize, lineHeight: sSize, padding: [0, 0, pad, 0], verticalAlign: "top" },
        };
  const total = Math.max(mainLH, sSize + pad);
  const top = kind === "sub" ? yc - mainLH / 2 : yc - (total - mainLH / 2);
  const text = parts.map(([t, s]) => `{${s}|${t}}`).join("");
  return {
    type: "text",
    x,
    y: top,
    silent: true,
    style: { text, rich, fill: "#000", align: "left", verticalAlign: "top", textAlign: "left", textVerticalAlign: "top" },
  };
}

function plainText(x: number, y: number, text: string, size: number, align = "left", rotation = 0) {
  return {
    type: "text",
    x,
    y,
    rotation,
    silent: true,
    style: {
      text,
      fill: "#000",
      font: `bold ${size}px ${FONT}`,
      align,
      verticalAlign: "middle",
      textAlign: align,
      textVerticalAlign: "middle",
    },
  };
}

function arrowEls(x1: number, y1: number, x2: number, y2: number) {
  const dx = x2 - x1, dy = y2 - y1;
  const L = Math.hypot(dx, dy);
  const ux = dx / L, uy = dy / L;
  const hl = 7, hw = 3;
  const bx = x2 - ux * hl, by = y2 - uy * hl;
  return [
    { type: "line", silent: true, shape: { x1, y1, x2: bx, y2: by }, style: { stroke: "#000", lineWidth: 1.2 } },
    {
      type: "polygon",
      silent: true,
      shape: { points: [[x2, y2], [bx - uy * hw, by + ux * hw], [bx + uy * hw, by - ux * hw]] },
      style: { fill: "#000" },
    },
  ];
}

function buildOption() {
  const grid: any[] = [];
  const xAxis: any[] = [];
  const yAxis: any[] = [];
  const series: any[] = [];
  const graphic: any[] = [];

  panelData.forEach((p, i) => {
    const g = gridBoxes[i];
    grid.push({ ...g, show: true, borderColor: "#000", borderWidth: 1.3, backgroundColor: "transparent", containLabel: false });
    xAxis.push({
      type: "value", gridIndex: i, min: p.xMin, max: p.xMax, inverse: true, position: "bottom",
      axisLine: { show: true, onZero: false, lineStyle: { color: "#000", width: 1.3 } },
      axisTick: { show: true, inside: false, length: 5, customValues: p.major, lineStyle: { color: "#000", width: 1.2 } },
      axisLabel: { show: true, customValues: p.major, margin: 1, color: "#000", fontSize: 13, fontWeight: "bold", fontFamily: FONT },
      splitLine: { show: false },
    });
    xAxis.push({
      type: "value", gridIndex: i, min: p.xMin, max: p.xMax, inverse: true, position: "bottom",
      axisLine: { show: false, onZero: false },
      axisTick: { show: true, inside: false, length: 3, customValues: p.minor, lineStyle: { color: "#000", width: 1.2 } },
      axisLabel: { show: false },
      splitLine: { show: false },
    });
    yAxis.push({
      type: "value", gridIndex: i, min: 0, max: 100,
      axisLine: { show: true, lineStyle: { color: "#000", width: 1.3 } },
      axisTick: { show: false }, axisLabel: { show: false }, splitLine: { show: false },
    });

    series.push({
      type: "scatter", xAxisIndex: 2 * i, yAxisIndex: i, data: p.exp, symbol: "circle", symbolSize: p.expSize,
      itemStyle: { color: "rgba(0,0,0,0)", borderColor: "#000", borderWidth: 1.1 }, z: 2, silent: true,
    });
    p.curves.forEach((c) => {
      series.push({
        type: "line", xAxisIndex: 2 * i, yAxisIndex: i, data: c.d, showSymbol: false, symbol: "none",
        smooth: 0.35, smoothMonotone: "x",
        lineStyle: { color: c.c, width: c.w ?? 2.5 }, z: c.c === RED ? 4 : 3, silent: true,
      });
    });
  });

  xTitlePos.forEach(([x, y]) => graphic.push(plainText(x, y, "Binding energy (eV)", 13, "center")));
  yTitlePos.forEach(([x, y]) => graphic.push(plainText(x, y, "Intensity (a.u)", 13, "center", Math.PI / 2)));
  tempLabels.forEach((t) => graphic.push(richLine(t.x, t.y, [[t.t, "m"], ["O", "s"], ["C", "m"]], "sup", 12.5, 8.5)));
  annotations.forEach((a) => {
    if (a.sub) graphic.push(richLine(a.x, a.y, [[a.main, "m"], [a.sub, "s"]], "sub", 12, 8.5));
    else graphic.push(plainText(a.x, a.y, a.main, 12.5, "left"));
  });
  arrows.forEach(([x1, y1, x2, y2]) => graphic.push(...arrowEls(x1, y1, x2, y2)));

  legends.forEach((lg) => {
    lg.rows.forEach((row) => {
      const info = legendInfo[row.k];
      if (row.k === "exp") {
        graphic.push({ type: "circle", silent: true, shape: { cx: (lg.x1 + lg.x2) / 2, cy: row.y, r: lg.r }, style: { fill: "none", stroke: "#000", lineWidth: 1.1 } });
      } else {
        graphic.push({ type: "line", silent: true, shape: { x1: lg.x1, y1: row.y, x2: lg.x2, y2: row.y }, style: { stroke: info.color, lineWidth: 3.5 } });
      }
      if (info.parts) graphic.push(richLine(lg.tx, row.y, [[info.parts[0], "m"], [info.parts[1], "s"]], "sup", 9, 6.5));
      else graphic.push(plainText(lg.tx, row.y, info.text as string, 9, "left"));
    });
  });

  return { animation: false, backgroundColor: "#ffffff", grid, xAxis, yAxis, series, graphic };
}

export default function App() {
  const ref = useRef<HTMLDivElement>(null);
  useEffect(() => {
    if (!ref.current) return;
    const chart = echarts.init(ref.current, null, { renderer: "svg" });
    chart.setOption(buildOption() as any);
    return () => chart.dispose();
  }, []);
  return <div ref={ref} style={{ position: "absolute", left: 0, top: 0, width: 1212, height: 535, background: "#fff" }} />;
}
